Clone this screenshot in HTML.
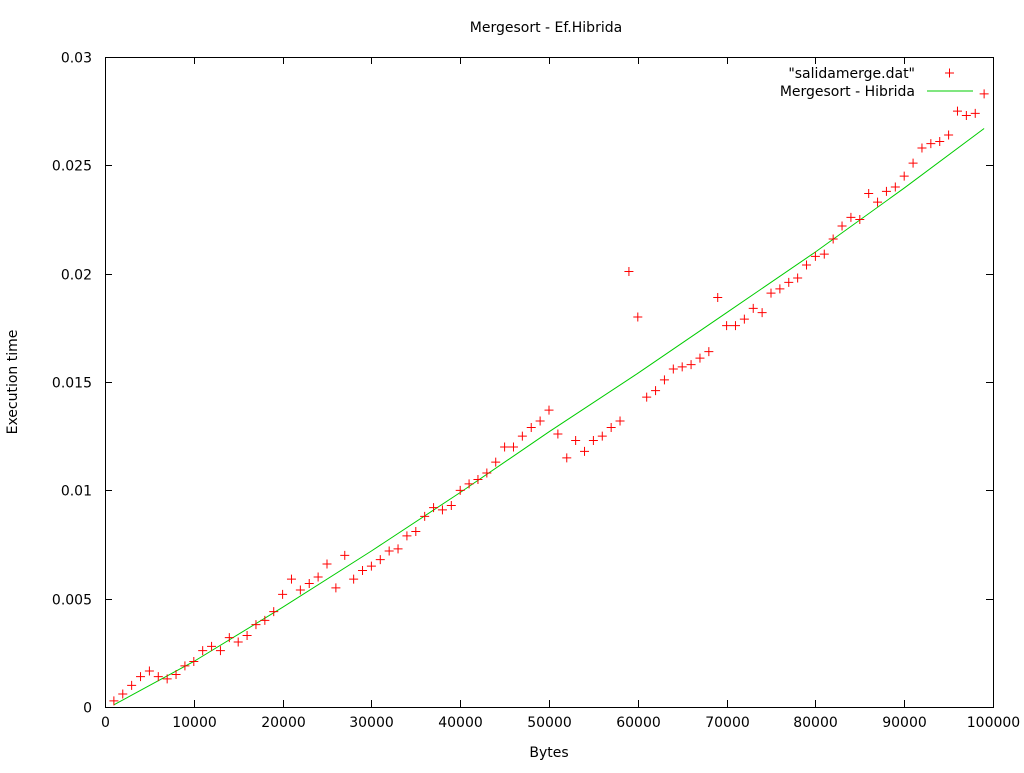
<!DOCTYPE html>
<html><head><meta charset="utf-8"><style>
body{margin:0;background:#fff;}
svg text{font-family:"DejaVu Sans","Liberation Sans",sans-serif;font-size:14px;fill:#000;}
</style></head><body>
<svg id="chart" width="1024" height="768" xmlns="http://www.w3.org/2000/svg">
<text x="546" y="32" text-anchor="middle">Mergesort - Ef.Hibrida</text>
<text x="549" y="757" text-anchor="middle">Bytes</text>
<text x="17" y="382" text-anchor="middle" transform="rotate(-90 17 382)">Execution time</text>
<g id="axes"></g>
<g id="marks"></g>
<g>
<text x="915" y="78" text-anchor="end">"salidamerge.dat"</text>
<path d="M945 73h9M949.5 68.5v9" stroke="#f00" stroke-width="1"/>
<text x="915" y="96" text-anchor="end">Mergesort - Hibrida</text>
<line x1="927" y1="91" x2="973" y2="91" stroke="#0c0" stroke-width="1"/>
</g>
</svg>
<script>
const xTicks=[0,10000,20000,30000,40000,50000,60000,70000,80000,90000,100000];
const yTicks=[0,0.005,0.01,0.015,0.02,0.025,0.03];
const yTickLabels=["0","0.005","0.01","0.015","0.02","0.025","0.03"];
const dataX=[];for(let i=1;i<=99;i++)dataX.push(i*1000);
const dataY=[0.00028,0.0006,0.001,0.0014,0.00166,0.0014,0.0013,0.0015,0.0019,0.0021,
0.0026,0.0028,0.0026,0.0032,0.003,0.0033,0.0038,0.004,0.0044,0.0052,
0.0059,0.0054,0.0057,0.006,0.0066,0.0055,0.007,0.0059,0.0063,0.0065,
0.0068,0.0072,0.0073,0.0079,0.0081,0.0088,0.0092,0.0091,0.0093,0.01,
0.0103,0.0105,0.0108,0.0113,0.012,0.012,0.0125,0.0129,0.0132,0.0137,
0.0126,0.0115,0.0123,0.0118,0.0123,0.0125,0.0129,0.0132,0.0201,0.018,
0.0143,0.0146,0.0151,0.0156,0.0157,0.0158,0.0161,0.0164,0.0189,0.0176,
0.0176,0.0179,0.0184,0.0182,0.0191,0.0193,0.0196,0.0198,0.0204,0.0208,
0.0209,0.0216,0.0222,0.0226,0.0225,0.0237,0.0233,0.0238,0.024,0.0245,
0.0251,0.0258,0.026,0.0261,0.0264,0.0275,0.0273,0.0274,0.0283];
const fitX=[1000,10000,20000,30000,40000,50000,60000,70000,80000,90000,99000];
const fitY=[0.0001,0.0021,0.0046,0.0072,0.0099,0.0127,0.0154,0.0182,0.021,0.02395,0.0267];
const L=105,R=993,T=57,B=707;
const sx=v=>L+(v-0)/100000*(R-L);
const sy=v=>B-(v/0.03)*(B-T);
const NS="http://www.w3.org/2000/svg";
function mk(tag,attrs,parent){const e=document.createElementNS(NS,tag);for(const k in attrs)e.setAttribute(k,attrs[k]);parent.appendChild(e);return e;}
const axes=document.getElementById('axes'),marks=document.getElementById('marks');
const frame=mk('rect',{x:L+0.5,y:T+0.5,width:R-L,height:B-T,fill:'none',stroke:'#000'},axes);


xTicks.forEach(t=>{const x=Math.round(sx(t))+0.5;
 const p=mk('path',{d:`M${x} ${B}v-7M${x} ${T}v7`,stroke:'#000'},axes);
 
 
 const tx=mk('text',{x:x,y:B+20,'text-anchor':'middle'},axes);tx.textContent=String(t);
 
 });
yTicks.forEach((t,i)=>{const y=Math.round(sy(t))+0.5;
 const p=mk('path',{d:`M${L} ${y}h7M${R} ${y}h-7`,stroke:'#000'},axes);
 
 
 const tx=mk('text',{x:L-13,y:y+5,'text-anchor':'end'},axes);tx.textContent=yTickLabels[i];
 
 });
const line=mk('polyline',{points:fitX.map((x,i)=>sx(x)+','+sy(fitY[i])).join(' '),fill:'none',stroke:'#0c0','stroke-width':1},marks);


dataX.forEach((x,i)=>{const px=sx(x),py=sy(dataY[i]);
 const p=mk('path',{d:`M${px-4.5} ${py}h9M${px} ${py-4.5}v9`,stroke:'#f00','stroke-width':1},marks);
 
 });
</script>
</body></html>
